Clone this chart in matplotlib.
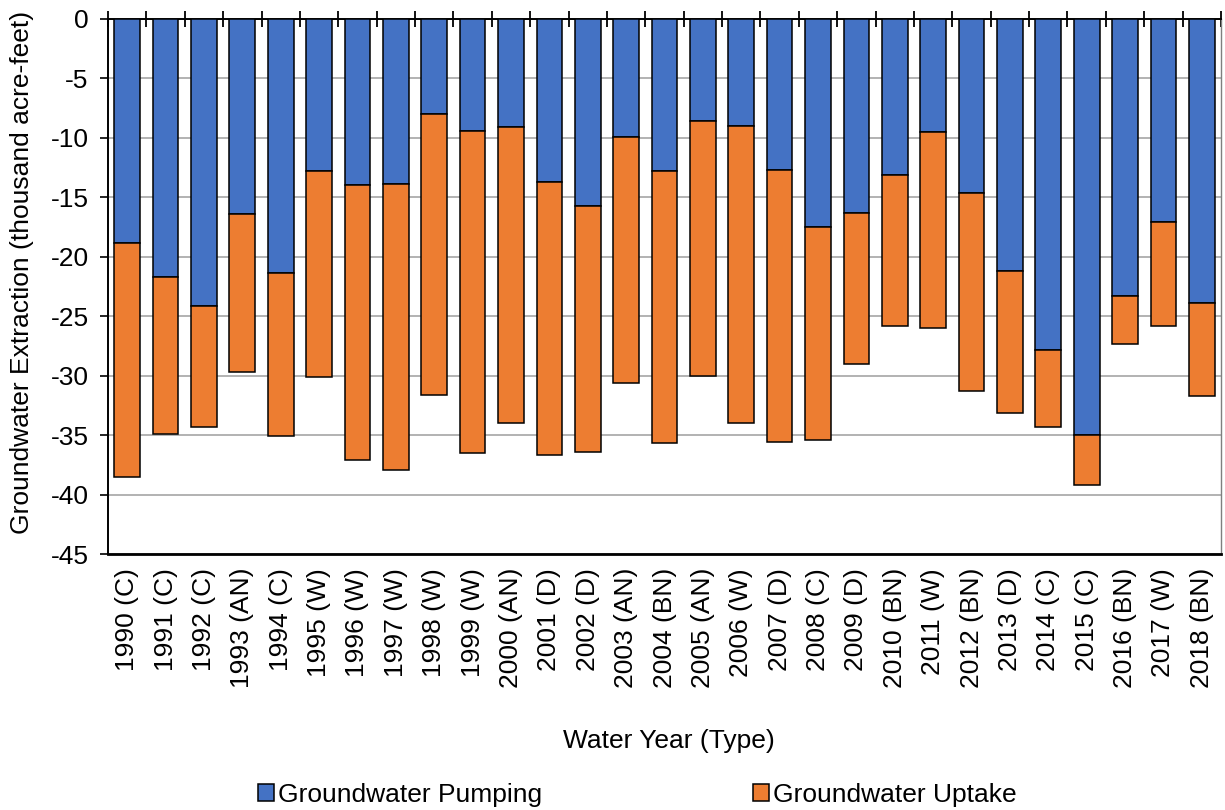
import matplotlib
matplotlib.use("Agg")
import matplotlib.pyplot as plt
import numpy as np

plt.rcParams['font.family'] = ['Liberation Sans', 'DejaVu Sans']

years = [
    "1990 (C)", "1991 (C)", "1992 (C)", "1993 (AN)", "1994 (C)", "1995 (W)",
    "1996 (W)", "1997 (W)", "1998 (W)", "1999 (W)", "2000 (AN)", "2001 (D)",
    "2002 (D)", "2003 (AN)", "2004 (BN)", "2005 (AN)", "2006 (W)", "2007 (D)",
    "2008 (C)", "2009 (D)", "2010 (BN)", "2011 (W)", "2012 (BN)", "2013 (D)",
    "2014 (C)", "2015 (C)", "2016 (BN)", "2017 (W)", "2018 (BN)",
]

# thousand acre-feet (negative = extraction)
pumping = [
    -18.8, -21.7, -24.1, -16.4, -21.4, -12.8, -14.0, -13.9, -8.0, -9.4,
    -9.1, -13.7, -15.7, -9.9, -12.8, -8.6, -9.0, -12.7, -17.5, -16.3,
    -13.1, -9.5, -14.6, -21.2, -27.8, -35.0, -23.3, -17.1, -23.9,
]
uptake = [
    -19.7, -13.2, -10.2, -13.3, -13.7, -17.3, -23.1, -24.0, -23.6, -27.1,
    -24.9, -23.0, -20.7, -20.7, -22.9, -21.4, -25.0, -22.9, -17.9, -12.7,
    -12.7, -16.5, -16.7, -11.9, -6.5, -4.2, -4.0, -8.7, -7.8,
]

yticks = [0, -5, -10, -15, -20, -25, -30, -35, -40, -45]

BLUE = "#4472C4"
ORANGE = "#ED7D31"
FS = 19

fig = plt.figure(figsize=(12.25, 8.10), dpi=100)
ax = fig.add_axes([108 / 1225, 1 - 554 / 810, (1221 - 108) / 1225, (554 - 19) / 810])

x = np.arange(len(years))
width = 0.67
ax.bar(x, pumping, width, color=BLUE, edgecolor="black", linewidth=1.1,
       label="Groundwater Pumping", zorder=3)
ax.bar(x, uptake, width, bottom=pumping, color=ORANGE, edgecolor="black",
       linewidth=1.1, label="Groundwater Uptake", zorder=3)

ax.set_xlim(-0.5, len(years) - 0.5)
ax.set_ylim(-45, 0)
ax.set_yticks(yticks)
ax.set_yticklabels([str(v) for v in yticks], fontsize=FS)
ax.yaxis.grid(True, color="#A6A6A6", linewidth=1.2, zorder=0)
ax.set_axisbelow(True)

# category labels along the bottom, boundary tick marks on the zero line
ax.set_xticks(x)
ax.set_xticklabels(years, rotation=90, fontsize=FS, va="top", ha="center")
ax.tick_params(axis="x", which="major", length=0, pad=10)
ax.set_xticks(np.arange(-0.5, len(years), 1.0), minor=True)
ax.tick_params(axis="x", which="minor", bottom=False, top=True,
               direction="inout", length=11, width=1.3, color="black")
ax.tick_params(axis="y", which="major", length=6, width=1.2, pad=8,
               direction="out", color="black")

for side in ("left", "top"):
    ax.spines[side].set_color("black")
    ax.spines[side].set_linewidth(1.4)
ax.spines["bottom"].set_color("black")
ax.spines["bottom"].set_linewidth(2.0)
ax.spines["right"].set_color("#7F7F7F")
ax.spines["right"].set_linewidth(1.0)

fig.text(22 / 1225, 1 - 272 / 810, "Groundwater Extraction (thousand acre-feet)",
         rotation=90, ha="center", va="center", fontsize=FS)
fig.text(669 / 1225, 1 - 741 / 810, "Water Year (Type)",
         ha="center", va="center", fontsize=FS)

fig.legend(loc="center", bbox_to_anchor=(637 / 1225, 1 - 795 / 810), ncol=2,
           frameon=False, fontsize=FS, handlelength=0.6, handleheight=0.6,
           handletextpad=0.15, columnspacing=8.0, borderaxespad=0)

fig.savefig("out.png", dpi=100)
